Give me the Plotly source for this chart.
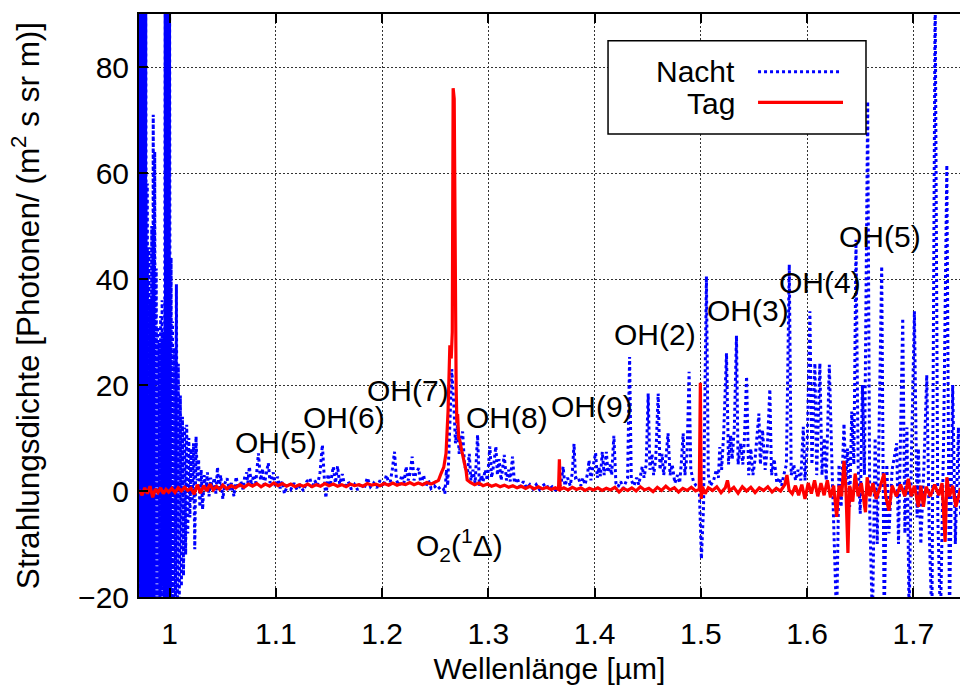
import plotly.graph_objects as go

# ---------------- Nacht (night) spectrum, wavelength in µm ----------------
nacht_wl_a = [0.9712, 0.9719, 0.9726, 0.9733, 0.9740, 0.9747, 0.9754, 0.9761, 0.9768, 0.9775,
              0.9782, 0.9789, 0.9796, 0.9803, 0.9810, 0.9817, 0.9824, 0.9831, 0.9838, 0.9845,
              0.9852, 0.9859, 0.9866, 0.9873, 0.9880, 0.9887, 0.9894, 0.9901, 0.9908, 0.9915,
              0.9922, 0.9929, 0.9936, 0.9943, 0.9950, 0.9957, 0.9964, 0.9971, 0.9978, 0.9985,
              0.9992, 0.9999, 1.0006, 1.0013, 1.0020, 1.0028, 1.0036, 1.0045, 1.0054, 1.0063,
              1.0072, 1.0081, 1.0090, 1.0100, 1.0110, 1.0120, 1.0130, 1.0140, 1.0150, 1.0160,
              1.0170, 1.0180, 1.0190, 1.0200, 1.0212, 1.0224, 1.0236, 1.0248, 1.0260, 1.0272,
              1.0284, 1.0296, 1.0310, 1.0325, 1.0340, 1.0355, 1.0370, 1.0385]
nacht_val_a = [-25, 95, -25, 95, -25, 95, -25, 95, -25, 95,
               -25, 58, -25, 46, -25, 36, -25, 50, -25, 71,
               -25, 64, -25, 42, -22, 31, -25, 28, -20, 33,
               -25, 36, -18, 30, -25, 95, -25, 95, -25, 95,
               -25, 95, -25, 44, -25, 32, -25, 27, -25, 39,
               -24, 24, -22, 18, -18, 14, -16, 12, -12, 12.5,
               -8, 10, -5, 8, -2, 9, -11, 10.3, 2, 6,
               -3, 4, -3.5, 3, 0, 3.5, -1, 2.5]

nacht_wl_b = [1.040, 1.042, 1.0435, 1.045, 1.0465, 1.048, 1.050, 1.052, 1.054, 1.056,
              1.058, 1.0605, 1.0625, 1.0645, 1.067, 1.069, 1.0705, 1.0725, 1.0735, 1.075,
              1.077, 1.079, 1.081, 1.0835, 1.0855, 1.0875, 1.089, 1.091, 1.0928, 1.0945,
              1.0975, 1.0995, 1.1015, 1.104, 1.106, 1.108, 1.111, 1.114, 1.117, 1.120,
              1.123, 1.126, 1.129, 1.132, 1.134, 1.1365, 1.139, 1.1415, 1.1437, 1.1455,
              1.147, 1.149, 1.151, 1.154, 1.156, 1.158, 1.160, 1.1625, 1.165, 1.168,
              1.171, 1.174, 1.177, 1.180, 1.183, 1.186, 1.189, 1.192, 1.195, 1.198,
              1.201, 1.204, 1.207, 1.2095, 1.2116, 1.2135, 1.216, 1.2185, 1.2205, 1.2225,
              1.2245, 1.2265, 1.2282, 1.230, 1.232, 1.2344, 1.2365, 1.239, 1.241, 1.2435,
              1.246, 1.249, 1.252, 1.255, 1.2575]
nacht_val_b = [0.5, 2.5, -0.5, 4.5, 0, 3, -1.5, 1.5, 2.4, 0.2,
               1.5, -1, 2.7, 0.5, 1.8, 0.3, 2.5, 3.5, 1.5, 4.6,
               1, 3, 1.5, 7.1, 2, 4.2, 1.2, 3.8, 5.3, 1.5,
               3.5, 0.8, 2.7, 0.5, 1.8, -0.5, 1.2, 0.3, 1.5, 0.2,
               1.0, 0, 1.8, 2.4, 0.5, 2.0, 1, 3.5, 8.7, 2.5,
               -1.3, 3.2, 1, 4.6, 1.5, 4.7, 1.3, 3.2, 0.5, 1.8,
               0.3, 1.2, 0.2, 1.5, 0.4, 2.5, 0.8, 1.5, 0.6, 2.0,
               0.8, 3, 1, 4, 7.4, 2, 1, 3, 1.5, 4.6,
               2, 3.5, 6.5, 2, 3.5, 4.3, 1.2, 3, 0.8, 2,
               0.5, 1, 0.3, 0.8, 0.5]

nacht_wl_c = [1.259, 1.2605, 1.2617, 1.2635, 1.2655, 1.2675, 1.269, 1.271, 1.2725, 1.2745,
              1.2757, 1.2775, 1.280, 1.282, 1.2835, 1.2855, 1.2875, 1.2898, 1.2915, 1.2935,
              1.295, 1.297, 1.299, 1.3014, 1.303, 1.305, 1.307, 1.3085, 1.310, 1.312,
              1.3149, 1.317, 1.319, 1.3205, 1.3227, 1.3245, 1.327, 1.330, 1.333, 1.336,
              1.339, 1.342, 1.345, 1.348, 1.351, 1.354, 1.357, 1.360, 1.363, 1.366,
              1.3685, 1.3703, 1.372, 1.3745, 1.377, 1.379, 1.3806, 1.382, 1.3845, 1.387,
              1.389, 1.391, 1.3935, 1.3947, 1.3965, 1.398]
nacht_val_c = [-0.5, 4, 1, 12, 23, 16, 9, 12.5, 7, 10,
               11.2, 5, 3, 7, 2, 4, 1.5, 10.6, 1, 3,
               1.8, 4, 2, 8.4, 2.5, 5, 8.4, 3, 6, 2,
               6.8, 2, 4, 1.8, 6.5, 1.5, 2.5, 0.8, 1.8, 0.5,
               1.2, 0.4, 1.2, 0.3, 1.0, 1.4, 0.3, 0.8, 0.2, 0.5,
               1.5, 4.6, 1, 2.5, 1.0, 3.5, 8.9, 2.5, 2.7, 1.0,
               2.5, 1.2, 3.5, 5.8, 2.0, 4]

nacht_wl_d = [1.4009, 1.4025, 1.404, 1.4055, 1.4072, 1.409, 1.411, 1.4125, 1.4145, 1.416,
              1.4181, 1.420, 1.422, 1.4245, 1.427, 1.429, 1.431, 1.4329, 1.4345, 1.437,
              1.4395, 1.4415, 1.4448, 1.4465, 1.4485, 1.4504, 1.452, 1.454, 1.4555, 1.4575,
              1.4598, 1.4615, 1.4635, 1.465, 1.467, 1.4691, 1.471, 1.473, 1.4755, 1.478,
              1.480, 1.4815, 1.4833, 1.485, 1.487, 1.4889, 1.4905, 1.493, 1.4955, 1.4985,
              1.5005, 1.5025, 1.5052, 1.507, 1.509, 1.512, 1.5145, 1.5165, 1.5178, 1.5195,
              1.5215, 1.5241, 1.526, 1.528, 1.5295, 1.5315, 1.5335, 1.535, 1.5375, 1.5395,
              1.541, 1.543, 1.545, 1.547, 1.549, 1.551, 1.5546, 1.556, 1.558, 1.5605,
              1.5625, 1.5649, 1.5665, 1.569, 1.5715, 1.574, 1.576, 1.578, 1.5805, 1.5832,
              1.585, 1.5875, 1.589, 1.5915, 1.5940, 1.5964]
nacht_val_d = [7.2, 2.5, 4.5, 2.8, 7.4, 3, 7.4, 3.5, 5, 3,
               10.4, 1.5, 0.8, 1.8, 0.5, 1.5, 2.5, 25.3, 2, 1,
               2.5, 1.2, 4.6, 2.5, 5, 18.4, 4, 7, 3, 6,
               18.4, 4, 7, 3, 6, 10.9, 3, 5, 1.5, 3,
               1.5, 5, 10.9, 3, 7, 22.5, 4, 1.8, 1.0, 0.5,
               -12.8, -3, 40.5, 3, 1, 2, 4, 2.5, 8.3, 4,
               11, 26, 5, 10.5, 6, 12, 29.3, 5, 9, 5,
               10, 21.6, 3, 8, 3, 6, 14.6, 5, 11.5, 4,
               8, 19.2, 3, 6, 1.5, 2.5, 1.0, 3, 5, 42.7,
               3, 5, 2, 4, 2, 12.1]

nacht_wl_e = [1.598, 1.600, 1.6026, 1.6045, 1.6073, 1.609, 1.612, 1.614, 1.616, 1.618,
              1.6209, 1.6235, 1.625, 1.6278, 1.630, 1.632, 1.6347, 1.6365, 1.638, 1.640,
              1.642, 1.644, 1.646, 1.648, 1.650, 1.652, 1.654, 1.657, 1.659, 1.6615,
              1.664, 1.666, 1.6702, 1.6725, 1.675, 1.677, 1.680, 1.6843, 1.686, 1.690,
              1.692, 1.694, 1.696, 1.698, 1.701, 1.7035, 1.7047, 1.707, 1.710, 1.7126,
              1.715, 1.7175, 1.7205, 1.723, 1.7255, 1.7285, 1.7315, 1.734, 1.737, 1.7395,
              1.7424, 1.7445]
nacht_val_e = [2, 8, 33.9, 5, 24.1, 3, 24.1, 3, 10, 2,
               23.8, 4, -5, -25, 5, -3, 12.7, 2, 8, -3,
               15, 5, 47.4, 5, -4.3, 20, 3, 73.5, -5, -25,
               10, -10, 42.4, -25, 5, -8, 4, 9, -10, 32.6,
               -8, 12, -25, 5, 33.9, -5, 8, -10, 5, 21.9,
               -8, -25, 95, -5, -25, 10, 61.5, -25, 20, -10,
               12, -5]

# ---------------- Tag (day) spectrum ----------------
tag_wl_a = [0.9712, 0.9740, 0.9765, 0.9790, 0.9815, 0.9840, 0.9865, 0.9890, 0.9915, 0.9940,
            0.9965, 0.9990, 1.0020, 1.0050, 1.0080, 1.0110, 1.0140, 1.0170, 1.0200, 1.0230,
            1.0260, 1.0290, 1.0320, 1.0350, 1.0380, 1.0410, 1.0440, 1.0470, 1.0500, 1.0540,
            1.0580, 1.0620, 1.0660, 1.0700, 1.0740, 1.0780, 1.0820, 1.0860, 1.0900, 1.0940,
            1.0980, 1.1020, 1.1060, 1.1100, 1.1140, 1.1180, 1.1220, 1.1260, 1.1300, 1.1340,
            1.1380, 1.1420, 1.1460, 1.1500, 1.1540, 1.1580, 1.1620, 1.1660, 1.1700, 1.1740,
            1.1780, 1.1820, 1.1860, 1.1900, 1.1940, 1.1980, 1.2020, 1.2060, 1.2100, 1.2140,
            1.2180, 1.2220, 1.2260, 1.2300, 1.2340, 1.2380, 1.2420, 1.2460, 1.2500, 1.2530]
tag_val_a = [0.2, -0.8, 0.6, -0.5, 0.9, -1.2, 0.4, -0.3, 0.6, -0.5,
             0.3, -0.2, 0.5, -0.3, 0.6, 0.0, 0.7, 0.1, 0.5, -0.6,
             1.2, -0.4, 1.0, 0.0, 1.3, 0.2, 0.9, 0.3, 1.1, 0.4,
             1.0, 0.6, 1.2, 0.7, 1.3, 0.9, 1.4, 0.8, 1.3, 0.9,
             1.5, 1.0, 1.4, 0.9, 1.3, 0.8, 1.2, 0.9, 1.3, 0.8,
             1.2, 0.9, 1.4, 1.0, 1.3, 0.9, 1.2, 0.8, 1.3, 1.0,
             1.2, 0.9, 1.4, 1.1, 1.3, 1.0, 1.4, 1.1, 1.5, 1.1,
             1.4, 1.2, 1.6, 1.2, 1.5, 1.2, 1.6, 1.3, 1.7, 2.0]

# O2(1Delta) band
tag_wl_b = [1.2554, 1.2580, 1.2601, 1.2620, 1.2637, 1.2650, 1.2660, 1.2668, 1.2678, 1.2688,
            1.2696, 1.2703, 1.2710, 1.2720, 1.2730, 1.2750, 1.2770, 1.2790, 1.2800, 1.2830]
tag_val_b = [3.3, 4.5, 7.1, 15, 27.5, 25, 30, 76, 74, 35,
             20, 12.8, 14.5, 10, 9.6, 7.5, 5.8, 3.8, 2.1, 1.6]

tag_wl_c = [1.2870, 1.2910, 1.2950, 1.2990, 1.3030, 1.3070, 1.3110, 1.3150, 1.3190, 1.3230,
            1.3270, 1.3310, 1.3350, 1.3390, 1.3430, 1.3470, 1.3510, 1.3550, 1.3590, 1.3630,
            1.3660, 1.3668, 1.3676, 1.3710, 1.3750, 1.3790, 1.3830, 1.3870, 1.3910, 1.3950,
            1.3990, 1.4030, 1.4070, 1.4110, 1.4150, 1.4190, 1.4230, 1.4270, 1.4310, 1.4350,
            1.4390, 1.4430, 1.4470, 1.4510, 1.4550, 1.4590, 1.4630, 1.4670, 1.4710, 1.4750,
            1.4790, 1.4830, 1.4870, 1.4910, 1.4950, 1.4985, 1.4995, 1.5003, 1.5015, 1.5040,
            1.5070, 1.5110, 1.5150, 1.5190, 1.5230, 1.5250, 1.5270, 1.5310, 1.5350, 1.5390,
            1.5430, 1.5470, 1.5510, 1.5550, 1.5590, 1.5630, 1.5670, 1.5710, 1.5750, 1.5790]
tag_val_c = [1.2, 1.5, 1.0, 1.3, 0.9, 1.2, 0.8, 1.1, 0.7, 1.0,
             0.6, 0.9, 0.5, 0.9, 0.4, 0.8, 0.4, 0.7, 0.3, 0.6,
             0.3, 6.0, 0.3, 0.6, 0.2, 0.7, 0.3, 0.6, 0.1, 0.5,
             0.2, 0.6, 0.1, 0.5, 0.2, 0.7, -0.2, 0.5, 0.1, 0.6,
             0.0, 0.8, 0.2, 0.5, -0.1, 0.7, 0.1, 0.9, 0.2, 0.6,
             -0.2, 0.5, 0.1, 0.7, 0.0, 0.3, 20.4, -1.5, 0.8, -0.5,
             0.6, 0.1, 0.8, -0.3, 0.6, 2.0, 0.0, 0.7, -0.4, 0.8,
             0.0, 0.7, -0.3, 0.6, 0.1, 0.8, -0.2, 0.5, 0.0, 1.2]

tag_wl_d = [1.5810, 1.5830, 1.5860, 1.5890, 1.5920, 1.5950, 1.5980, 1.6010, 1.6040, 1.6070,
            1.6100, 1.6130, 1.6160, 1.6190, 1.6220, 1.6250, 1.6278, 1.6300, 1.6325, 1.6347,
            1.6365, 1.6384, 1.6400, 1.6430, 1.6452, 1.6480, 1.6510, 1.6549, 1.6565, 1.6590,
            1.6620, 1.6650, 1.6690, 1.6724, 1.6740, 1.6770, 1.6800, 1.6840, 1.6880, 1.6920,
            1.6953, 1.6980, 1.7010, 1.7047, 1.7070, 1.7095, 1.7120, 1.7160, 1.7200, 1.7240,
            1.7270, 1.7299, 1.7315, 1.7340, 1.7370, 1.7400, 1.7445]
tag_val_d = [3.0, 0.2, -0.5, 1.0, -0.8, 1.2, -1.5, 1.5, -0.5, 2.0,
             -1.0, 1.5, -0.8, 2.0, -1.2, 1.0, -4.9, 1.0, -1.0, 5.7,
             0.5, -11.7, 1.0, -2.0, 3.3, -1.0, 1.5, -4.0, 2.6, -1.0,
             1.5, -1.5, 1.0, 3.3, -1.0, -3.7, 1.0, -1.0, 1.2, -1.0,
             2.3, -1.0, 1.0, -3.0, 1.0, -3.0, 0.8, -1.0, 1.2, -0.8,
             1.5, -9.6, 2.6, -1.0, 1.0, -3.0, 0.5]

# ---------------- band labels ----------------
band_text = ["OH(5)", "OH(6)", "OH(7)", "OH(8)", "OH(9)",
             "OH(2)", "OH(3)", "OH(4)", "OH(5)", "O<sub>2</sub>(<sup>1</sup>Δ)"]
band_wl = [1.0998, 1.1638, 1.2241, 1.3173, 1.3974, 1.4567, 1.5443, 1.6121, 1.6685, 1.2731]
band_val = [9.2, 13.9, 19.0, 13.9, 16.0, 29.6, 34.1, 39.4, 48.1, -10.2]

x_ticks = [1.0, 1.1, 1.2, 1.3, 1.4, 1.5, 1.6, 1.7]
x_tick_text = ["1", "1.1", "1.2", "1.3", "1.4", "1.5", "1.6", "1.7"]
y_ticks = [-20, 0, 20, 40, 60, 80]

nacht_wl = nacht_wl_a + nacht_wl_b + nacht_wl_c + nacht_wl_d + nacht_wl_e
nacht_val = nacht_val_a + nacht_val_b + nacht_val_c + nacht_val_d + nacht_val_e
tag_wl = tag_wl_a + tag_wl_b + tag_wl_c + tag_wl_d
tag_val = tag_val_a + tag_val_b + tag_val_c + tag_val_d

FONT = "Liberation Sans, Arial, Helvetica, sans-serif"

fig = go.Figure()
fig.add_trace(go.Scatter(x=nacht_wl, y=nacht_val, mode="lines", name="Nacht",
                         line=dict(color="#0000ff", width=3, dash="3px,3px"),
                         showlegend=False))
fig.add_trace(go.Scatter(x=tag_wl, y=tag_val, mode="lines", name="Tag",
                         line=dict(color="#ff0000", width=3.2),
                         showlegend=False))

for t, wx, wy in zip(band_text, band_wl, band_val):
    fig.add_annotation(x=wx, y=wy, xref="x", yref="y", text=t, showarrow=False,
                       font=dict(size=30, color="black", family=FONT))

# key box (top right)
fig.add_shape(type="rect", xref="paper", yref="paper", x0=0.5713, x1=0.8855,
              y0=0.7942, y1=0.9542, line=dict(color="black", width=1.5),
              fillcolor="white", layer="above")
fig.add_shape(type="line", xref="paper", yref="paper", x0=0.754, x1=0.8538,
              y0=0.901, y1=0.901, line=dict(color="#0000ff", width=3, dash="3px,3px"))
fig.add_shape(type="line", xref="paper", yref="paper", x0=0.754, x1=0.8575,
              y0=0.8485, y1=0.8485, line=dict(color="#ff0000", width=3.2))
fig.add_annotation(x=0.7284, y=0.9019, xref="paper", yref="paper", text="Nacht",
                   xanchor="right", yanchor="middle", showarrow=False,
                   font=dict(size=30, color="black", family=FONT))
fig.add_annotation(x=0.7284, y=0.8468, xref="paper", yref="paper", text="Tag",
                   xanchor="right", yanchor="middle", showarrow=False,
                   font=dict(size=30, color="black", family=FONT))

axis_common = dict(showline=True, linecolor="black", linewidth=2,
                   ticks="inside", ticklen=9, tickwidth=1.5, tickcolor="black",
                   showgrid=True, gridcolor="#333333", gridwidth=1, griddash="2px,2px",
                   zeroline=False, tickfont=dict(size=30, color="black", family=FONT))

fig.update_xaxes(range=[0.9711, 1.7439], tickvals=x_ticks, ticktext=x_tick_text,
                 mirror="ticks", ticklabelstandoff=9,
                 title=dict(text="Wellenlänge [µm]", standoff=9,
                            font=dict(size=30, color="black", family=FONT)),
                 **axis_common)
fig.update_yaxes(range=[-20, 90], tickvals=y_ticks, mirror=False, ticklabelstandoff=2,
                 title=dict(text="Strahlungsdichte [Photonen/ (m<sup>2</sup> s sr m)]",
                            standoff=29, font=dict(size=31.5, color="black", family=FONT)),
                 **axis_common)

fig.update_layout(width=960, height=693, margin=dict(l=139, r=0, t=14, b=96, pad=0),
                  plot_bgcolor="white", paper_bgcolor="white",
                  font=dict(family=FONT, color="black"))

fig.write_html("out.html")
